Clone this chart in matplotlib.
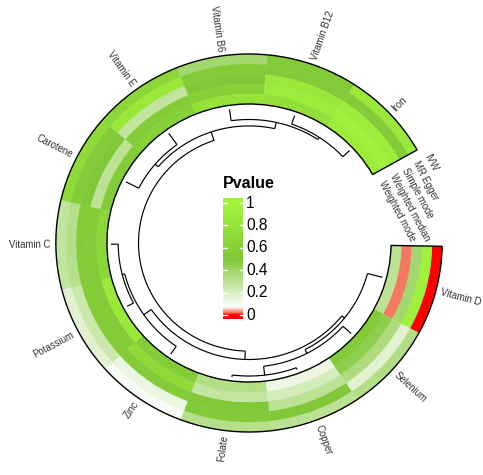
import numpy as np
import matplotlib
matplotlib.use("Agg")
import matplotlib.pyplot as plt
from matplotlib.patches import Wedge
from matplotlib.colors import LinearSegmentedColormap

plt.rcParams['font.family'] = ['Liberation Sans', 'DejaVu Sans']

# ---------------- data ----------------
exposures = ["Vitamin D", "Selenium", "Copper", "Folate", "Zinc", "Potassium",
             "Vitamin C", "Carotene", "Vitamin E", "Vitamin B6", "Vitamin B12", "Iron"]
methods = ["IVW", "MR Egger", "Simple mode", "Weighted median", "Weighted mode"]  # outer -> inner

ivw             = [0.002, 0.33, 0.30, 0.32, 0.09, 0.17, 0.28, 0.70, 0.65, 0.38, 0.55, 0.85]
mr_egger        = [0.95, 0.17, 0.50, 0.52, 0.14, 0.25, 0.32, 0.55, 0.85, 0.55, 0.52, 0.55]
simple_mode     = [0.38, 0.35, 0.30, 0.50, 0.55, 0.55, 0.55, 0.50, 0.28, 0.50, 0.85, 0.90]
weighted_median = [0.02, 0.45, 0.22, 0.27, 0.70, 0.55, 0.55, 0.30, 0.55, 0.60, 0.90, 0.95]
weighted_mode   = [0.30, 0.52, 0.13, 0.33, 0.55, 0.85, 0.65, 0.55, 0.60, 0.80, 0.75, 0.90]

legend_ticks = [0, 0.2, 0.4, 0.6, 0.8, 1]

# dendrogram merges: (child_a, child_b, height); leaves 0..11, new nodes 12..
dend_merges = [
    (10, 11, 0.32),   # 12  B12-Iron
    (9, 12, 0.41),    # 13
    (7, 8, 0.50),     # 14  Carotene-VitE
    (14, 13, 0.64),   # 15  A
    (2, 3, 0.07),     # 16  Copper-Folate
    (1, 16, 0.39),    # 17  Z
    (0, 17, 0.54),    # 18  B
    (5, 6, 0.25),     # 19  Potassium-VitC
    (4, 19, 0.34),    # 20  Y
    (18, 20, 0.66),   # 21  P
    (15, 21, 0.96),   # 22  root
]

# ---------------- geometry (pixel based) ----------------
W, H = 483, 475
cx, cy = 249, 243
sx = 1.022                      # slight horizontal stretch of the picture
r_in, r_out = 139, 189
r_leaf, r_top = 135, 107         # height 0 -> r_leaf, height 1 -> r_top
start_deg = -1.0
end_deg = 29.5
label_r = 194

cmap = LinearSegmentedColormap.from_list(
    "pv", [(0.0, "#FF0000"), (0.02, "#F57A62"), (0.07, "#FFFFFF"),
           (0.5, "#80C837"), (1.0, "#A3F53B")])


def px(x):
    return (x - cx) / sx


def py(y):
    return cy - y


fig = plt.figure(figsize=(W / 100, H / 100), dpi=100)
ax = fig.add_axes([0, 0, 1, 1])
ax.set_xlim(px(0), px(W))
ax.set_ylim(py(H), py(0))
ax.set_aspect('auto')
ax.axis('off')

n = len(exposures)
span = 360.0 - (end_deg - start_deg)
w = span / n
tracks = [ivw, mr_egger, simple_mode, weighted_median, weighted_mode]
tw = (r_out - r_in) / len(tracks)

for ti, vals in enumerate(tracks):
    ro = r_out - ti * tw
    for k, v in enumerate(vals):
        t2 = start_deg - k * w
        t1 = t2 - w
        ax.add_patch(Wedge((0, 0), ro, t1, t2, width=tw, facecolor=cmap(v),
                           edgecolor=cmap(v), linewidth=0.3))

ax.add_patch(Wedge((0, 0), r_out, start_deg - span, start_deg, width=r_out - r_in,
                   facecolor='none', edgecolor='black', linewidth=1.0))

# sector labels
for k, name in enumerate(exposures):
    th = start_deg - (k + 0.5) * w
    rad = np.deg2rad(th)
    x, y = label_r * np.cos(rad), label_r * np.sin(rad)
    if np.cos(rad) >= 0:
        ax.text(x, y, name, rotation=th, ha='left', va='center',
                rotation_mode='anchor', fontsize=6.9, color='#333333')
    else:
        ax.text(x, y, name, rotation=th + 180, ha='right', va='center',
                rotation_mode='anchor', fontsize=6.9, color='#333333')

# track labels in the gap
for ti, m in enumerate(methods):
    rr = 195.0 - ti * 12.9
    th = 26.8 - ti * 0.33
    rad = np.deg2rad(th)
    ax.text(rr * np.cos(rad), rr * np.sin(rad), m, rotation=-62,
            ha='left', va='center', rotation_mode='anchor', fontsize=6.9,
            color='#333333')

# dendrogram
pos = {k: start_deg - (k + 0.5) * w for k in range(n)}
hgt = {k: 0.0 for k in range(n)}


def rad_of(h):
    return r_leaf - h * (r_leaf - r_top)


def arc(a1, a2, r):
    t = np.deg2rad(np.linspace(a1, a2, 150))
    ax.plot(r * np.cos(t), r * np.sin(t), color='black', lw=0.85,
            solid_capstyle='butt')


def radial(a, r1, r2):
    t = np.deg2rad(a)
    ax.plot([r1 * np.cos(t), r2 * np.cos(t)], [r1 * np.sin(t), r2 * np.sin(t)],
            color='black', lw=0.85, solid_capstyle='butt')


for i, (a, b, h) in enumerate(dend_merges):
    nid = n + i
    ra = rad_of(h)
    arc(pos[a], pos[b], ra)
    radial(pos[a], rad_of(hgt[a]), ra)
    radial(pos[b], rad_of(hgt[b]), ra)
    pos[nid] = (pos[a] + pos[b]) / 2
    hgt[nid] = h

# legend
bx0, bx1 = px(223), px(243)
y_one, y_zero = py(203), py(315)
y_top, y_bot = py(198), py(319)
grad = np.clip((np.linspace(y_top, y_bot, 400) - y_zero) / (y_one - y_zero), 0, 1)
ax.imshow(grad[:, None], cmap=cmap, vmin=0, vmax=1, aspect='auto',
          extent=(bx0, bx1, y_bot, y_top), zorder=3, interpolation='bilinear')
dash = 3.5 / sx
for tv in legend_ticks:
    yy = y_zero + tv * (y_one - y_zero)
    ax.plot([bx0, bx0 + dash], [yy, yy], color='white', lw=1, zorder=4)
    ax.plot([bx1 - dash, bx1], [yy, yy], color='white', lw=1, zorder=4)
    ax.text(px(246), yy, f"{tv:g}", ha='left', va='center', fontsize=11.2,
            color='black', zorder=4)
ax.text(px(223), py(184), "Pvalue", ha='left', va='center', fontsize=11.5,
        fontweight='bold', color='black')

fig.savefig("out.png", dpi=100)
